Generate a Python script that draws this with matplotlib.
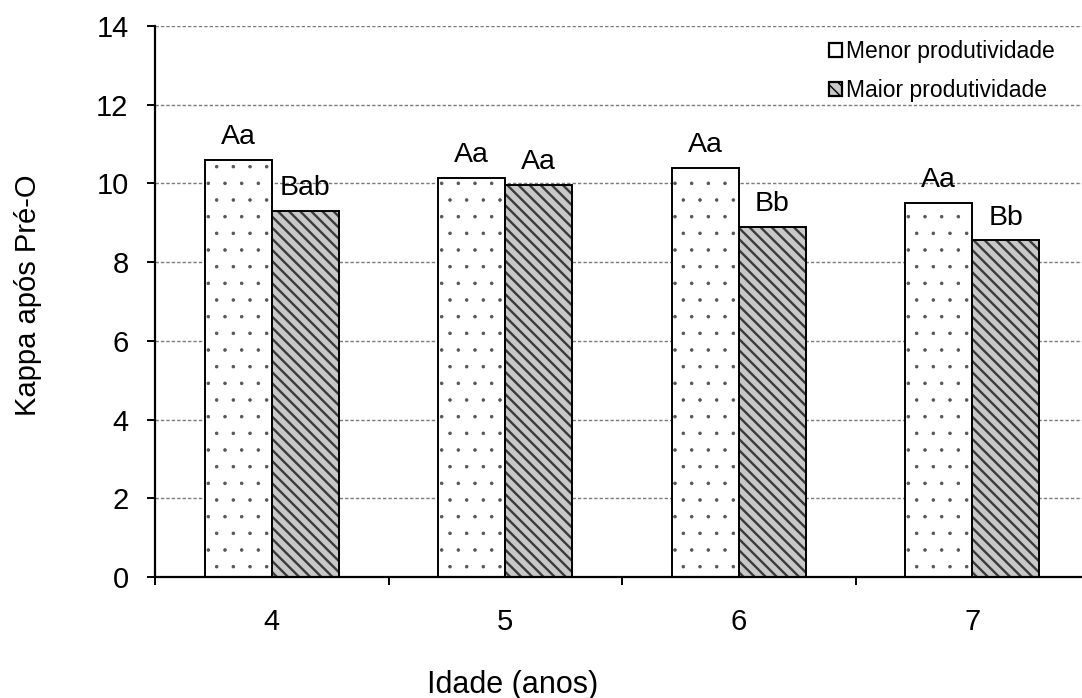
import matplotlib
matplotlib.use("Agg")
import matplotlib.pyplot as plt
import matplotlib.hatch as mhatch
import numpy as np
from matplotlib.patches import Patch

# ---- data ----
categories = ["4", "5", "6", "7"]
menor = [10.6, 10.15, 10.4, 9.5]
maior = [9.3, 9.97, 8.9, 8.55]
labels_menor = ["Aa", "Aa", "Aa", "Aa"]
labels_maior = ["Bab", "Aa", "Bb", "Bb"]
series_names = ["Menor produtividade", "Maior produtividade"]
yticks = [0, 2, 4, 6, 8, 10, 12, 14]

plt.rcParams['font.family'] = ['Liberation Sans', 'DejaVu Sans']
plt.rcParams['lines.scale_dashes'] = False
mhatch.SmallFilledCircles.size = 0.08

W, H = 1082, 698
fig = plt.figure(figsize=(W / 100, H / 100), dpi=100)
ax = fig.add_axes([155 / W, (H - 577) / H, 934 / W, 551 / H])

x = np.arange(len(categories))
bw = 0.287

DOT_LW = 0.6
STRIPE_LW = 1.7

# Menor: white with grey dots
with plt.rc_context({'hatch.linewidth': DOT_LW}):
    ax.bar(x - bw / 2, menor, width=bw, color="white", edgecolor="#555555",
           hatch=".", linewidth=0, zorder=3)
ax.bar(x - bw / 2, menor, width=bw, fill=False, edgecolor="black",
       linewidth=1.4, zorder=4)
# Maior: grey with dark diagonal stripes
with plt.rc_context({'hatch.linewidth': STRIPE_LW}):
    ax.bar(x + bw / 2, maior, width=bw, color="#c8c8c8", edgecolor="#3a3a3a",
           hatch="\\\\\\", linewidth=0, zorder=3)
ax.bar(x + bw / 2, maior, width=bw, fill=False, edgecolor="black",
       linewidth=1.4, zorder=4)

for xi, v, t in zip(x, menor, labels_menor):
    ax.annotate(t, (xi - bw / 2, v), xytext=(0, 7), textcoords="offset points",
                ha="center", va="bottom", fontsize=20.5, zorder=5)
for xi, v, t in zip(x, maior, labels_maior):
    ax.annotate(t, (xi + bw / 2, v), xytext=(0, 7), textcoords="offset points",
                ha="center", va="bottom", fontsize=20.5, zorder=5)

ax.set_xlim(-0.5, len(categories) - 0.5)
ax.set_ylim(0, 14)
ax.set_yticks(yticks)
ax.set_yticklabels([str(t) for t in yticks], fontsize=21)
ax.set_xticks(x)
ax.set_xticklabels(categories, fontsize=21)
ax.set_xticks(np.arange(len(categories) + 1) - 0.5, minor=True)
ax.tick_params(axis="x", which="major", length=0, pad=22)
ax.tick_params(axis="x", which="minor", length=6, width=1.4, direction="out")
ax.tick_params(axis="y", length=6, width=1.4, direction="out", pad=13)

ax.yaxis.grid(True, color="#7a7a7a", linestyle=(0, (2.4, 1.5)), linewidth=1.0, zorder=0)
ax.set_axisbelow(True)
for s in ["top", "right"]:
    ax.spines[s].set_visible(False)
for s in ["left", "bottom"]:
    ax.spines[s].set_linewidth(1.6)
    ax.spines[s].set_zorder(6)

# legend
with plt.rc_context({'hatch.linewidth': 1.0}):
    handles = [Patch(facecolor="white", edgecolor="black", linewidth=1.6),
               Patch(facecolor="#c8c8c8", edgecolor="black", hatch="\\\\\\", linewidth=1.6)]
leg = fig.legend(handles, series_names, loc="upper left",
                 bbox_to_anchor=(829 / W, 1 - 40 / H), frameon=False,
                 fontsize=16.5, handlelength=0.55, handleheight=0.55,
                 handletextpad=0.2, labelspacing=0.72, borderpad=0,
                 borderaxespad=0)

fig.text(513 / W, 1 - 693 / H, "Idade (anos)", ha="center", va="baseline", fontsize=22)
fig.text(28 / W, 1 - 295 / H, "Kappa após Pré-O", ha="center", va="center",
         rotation=90, fontsize=21)

fig.savefig("out.png", dpi=100)
